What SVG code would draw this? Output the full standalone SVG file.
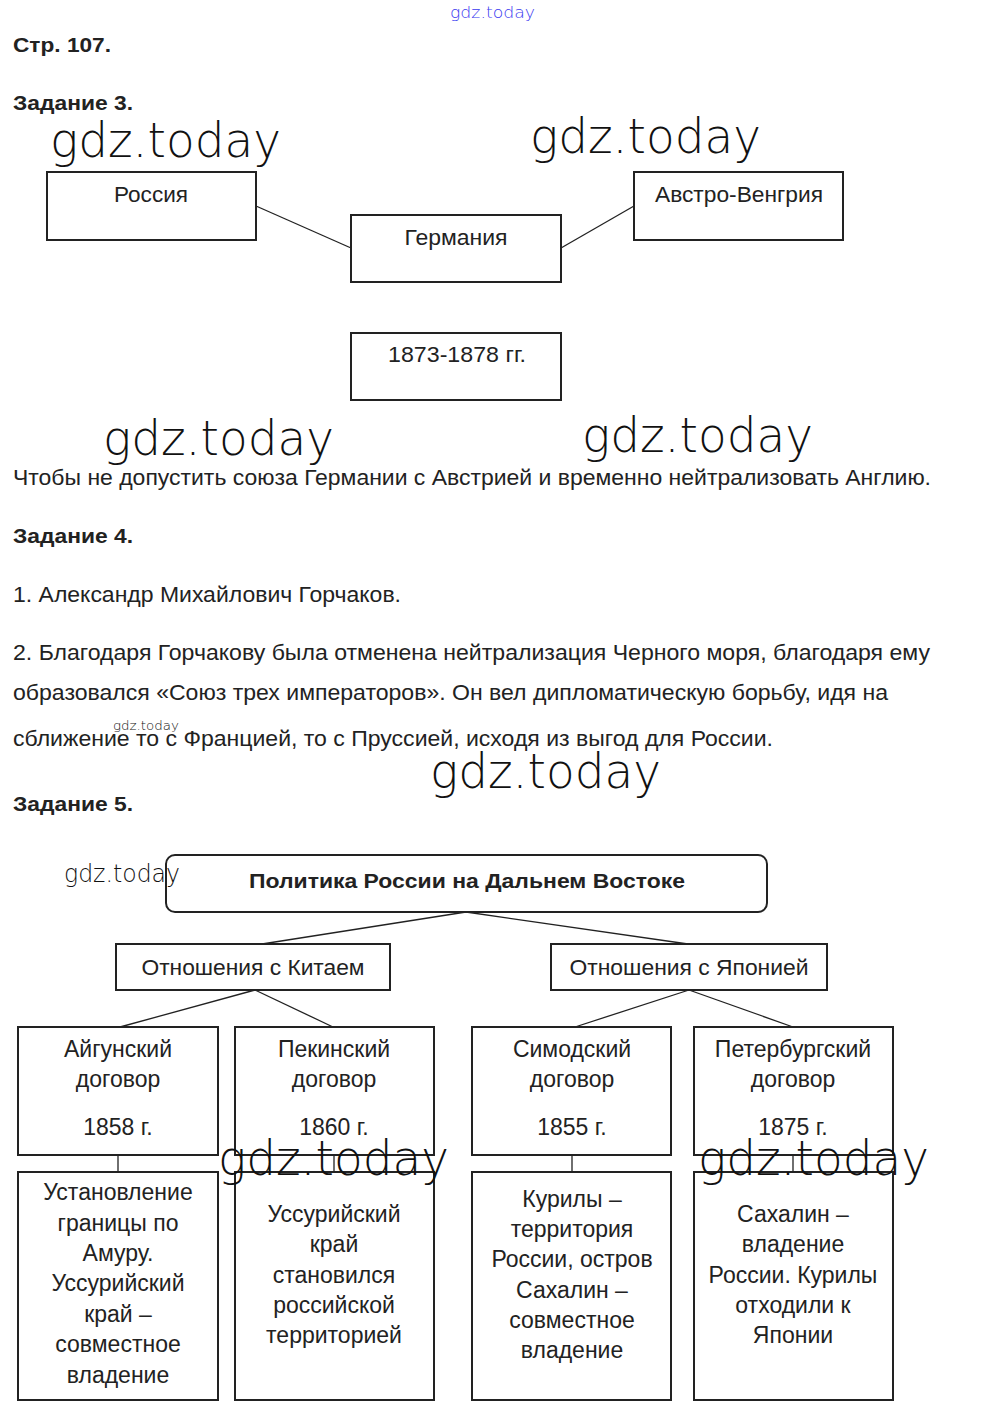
<svg xmlns="http://www.w3.org/2000/svg" width="983" height="1413" viewBox="0 0 983 1413">
<style>
text{font-family:"Liberation Sans",Arial,sans-serif;fill:#222}
.h{font-weight:bold;font-size:21px}
.p{font-size:22px}
.b{font-size:22px;text-anchor:middle}
.c{font-size:23px;text-anchor:middle}
.box{fill:#fff;stroke:#222;stroke-width:2}
.ln{stroke:#222;stroke-width:1.3;fill:none}
.wm{font-family:"DejaVu Sans",sans-serif;font-weight:200;fill:#111}
</style>
<rect width="983" height="1413" fill="#fff"/>
<text x="450" y="18" class="wm" style="fill:#3a3af0;font-size:16px" textLength="85" lengthAdjust="spacingAndGlyphs">gdz.today</text>
<text x="13" y="52" class="h" textLength="98" lengthAdjust="spacingAndGlyphs">Стр. 107.</text>
<text x="13" y="110" class="h" textLength="120" lengthAdjust="spacingAndGlyphs">Задание 3.</text>

<g id="connectors3">
<line class="ln" x1="256" y1="206" x2="351" y2="248"/>
<line class="ln" x1="561" y1="248" x2="634" y2="206"/>
</g>
<g id="russia"><rect class="box" x="47" y="172" width="209" height="68"/><text x="151" y="202" class="b" textLength="74" lengthAdjust="spacingAndGlyphs">Россия</text></g>
<g id="germany"><rect class="box" x="351" y="215" width="210" height="67"/><text x="456" y="245" class="b" textLength="103" lengthAdjust="spacingAndGlyphs">Германия</text></g>
<g id="austria"><rect class="box" x="634" y="172" width="209" height="68"/><text x="739" y="202" class="b" textLength="168" lengthAdjust="spacingAndGlyphs">Австро-Венгрия</text></g>
<g id="years"><rect class="box" x="351" y="333" width="210" height="67"/><text x="457" y="362" class="b" textLength="138" lengthAdjust="spacingAndGlyphs">1873-1878 гг.</text></g>

<text x="13" y="485" class="p" textLength="918" lengthAdjust="spacingAndGlyphs">Чтобы не допустить союза Германии с Австрией и временно нейтрализовать Англию.</text>
<text x="13" y="543" class="h" textLength="120" lengthAdjust="spacingAndGlyphs">Задание 4.</text>
<text x="13" y="602" class="p" textLength="388" lengthAdjust="spacingAndGlyphs">1. Александр Михайлович Горчаков.</text>
<text x="13" y="660" class="p" textLength="917" lengthAdjust="spacingAndGlyphs">2. Благодаря Горчакову была отменена нейтрализация Черного моря, благодаря ему</text>
<text x="13" y="700" class="p" textLength="875" lengthAdjust="spacingAndGlyphs">образовался «Союз трех императоров». Он вел дипломатическую борьбу, идя на</text>
<text x="13" y="746" class="p" textLength="760" lengthAdjust="spacingAndGlyphs">сближение то с Францией, то с Пруссией, исходя из выгод для России.</text>
<text x="13" y="811" class="h" textLength="120" lengthAdjust="spacingAndGlyphs">Задание 5.</text>

<g id="connectors5">
<line class="ln" x1="466" y1="912" x2="262" y2="944"/>
<line class="ln" x1="466" y1="912" x2="688" y2="944"/>
<line class="ln" x1="255" y1="990" x2="120" y2="1027"/>
<line class="ln" x1="255" y1="990" x2="333" y2="1027"/>
<line class="ln" x1="689" y1="990" x2="575" y2="1027"/>
<line class="ln" x1="689" y1="990" x2="793" y2="1027"/>
<line class="ln" x1="118" y1="1155" x2="118" y2="1172"/>
<line class="ln" x1="334" y1="1155" x2="334" y2="1172"/>
<line class="ln" x1="572" y1="1155" x2="572" y2="1172"/>
<line class="ln" x1="793" y1="1155" x2="793" y2="1172"/>
</g>
<g id="policy"><rect class="box" x="166" y="855" width="601" height="57" rx="9"/><text x="467" y="888" class="b" style="font-weight:bold;font-size:21px" textLength="436" lengthAdjust="spacingAndGlyphs">Политика России на Дальнем Востоке</text></g>
<g id="china"><rect class="box" x="116" y="944" width="274" height="46"/><text x="253" y="975" class="b" textLength="223" lengthAdjust="spacingAndGlyphs">Отношения с Китаем</text></g>
<g id="japan"><rect class="box" x="551" y="944" width="276" height="46"/><text x="689" y="975" class="b" textLength="239" lengthAdjust="spacingAndGlyphs">Отношения с Японией</text></g>

<g id="aigun"><rect class="box" x="18" y="1027" width="200" height="128"/>
<text class="c" x="118" y="1057">Айгунский</text><text class="c" x="118" y="1087">договор</text><text class="c" x="118" y="1135">1858 г.</text></g>
<g id="peking"><rect class="box" x="235" y="1027" width="199" height="128"/>
<text class="c" x="334" y="1057">Пекинский</text><text class="c" x="334" y="1087">договор</text><text class="c" x="334" y="1135">1860 г.</text></g>
<g id="shimoda"><rect class="box" x="472" y="1027" width="199" height="128"/>
<text class="c" x="572" y="1057">Симодский</text><text class="c" x="572" y="1087">договор</text><text class="c" x="572" y="1135">1855 г.</text></g>
<g id="peterburg"><rect class="box" x="694" y="1027" width="199" height="128"/>
<text class="c" x="793" y="1057">Петербургский</text><text class="c" x="793" y="1087">договор</text><text class="c" x="793" y="1135">1875 г.</text></g>

<g id="aigun-res"><rect class="box" x="18" y="1172" width="200" height="228"/>
<text class="c" x="118" y="1200">Установление</text><text class="c" x="118" y="1231">границы по</text><text class="c" x="118" y="1261">Амуру.</text><text class="c" x="118" y="1291">Уссурийский</text><text class="c" x="118" y="1322">край –</text><text class="c" x="118" y="1352">совместное</text><text class="c" x="118" y="1383">владение</text></g>
<g id="peking-res"><rect class="box" x="235" y="1172" width="199" height="228"/>
<text class="c" x="334" y="1222">Уссурийский</text><text class="c" x="334" y="1252">край</text><text class="c" x="334" y="1283">становился</text><text class="c" x="334" y="1313">российской</text><text class="c" x="334" y="1343">территорией</text></g>
<g id="shimoda-res"><rect class="box" x="472" y="1172" width="199" height="228"/>
<text class="c" x="572" y="1207">Курилы –</text><text class="c" x="572" y="1237">территория</text><text class="c" x="572" y="1267">России, остров</text><text class="c" x="572" y="1298">Сахалин –</text><text class="c" x="572" y="1328">совместное</text><text class="c" x="572" y="1358">владение</text></g>
<g id="peterburg-res"><rect class="box" x="694" y="1172" width="199" height="228"/>
<text class="c" x="793" y="1222">Сахалин –</text><text class="c" x="793" y="1252">владение</text><text class="c" x="793" y="1283">России. Курилы</text><text class="c" x="793" y="1313">отходили к</text><text class="c" x="793" y="1343">Японии</text></g>

<g id="watermarks" class="wm">
<text x="50" y="157" font-size="48" textLength="231" lengthAdjust="spacingAndGlyphs" class="wm">gdz.today</text>
<text x="530" y="153" font-size="48" textLength="231" lengthAdjust="spacingAndGlyphs" class="wm">gdz.today</text>
<text x="103" y="455" font-size="48" textLength="231" lengthAdjust="spacingAndGlyphs" class="wm">gdz.today</text>
<text x="582" y="452" font-size="48" textLength="231" lengthAdjust="spacingAndGlyphs" class="wm">gdz.today</text>
<text x="430" y="788" font-size="48" textLength="231" lengthAdjust="spacingAndGlyphs" class="wm">gdz.today</text>
<text x="218" y="1175" font-size="48" textLength="231" lengthAdjust="spacingAndGlyphs" class="wm">gdz.today</text>
<text x="698" y="1175" font-size="48" textLength="231" lengthAdjust="spacingAndGlyphs" class="wm">gdz.today</text>
<text x="113" y="730" font-size="13" textLength="66" lengthAdjust="spacingAndGlyphs" class="wm">gdz.today</text>
<text x="64" y="882" font-size="24" textLength="116" lengthAdjust="spacingAndGlyphs" class="wm">gdz.today</text>
</g>
</svg>
